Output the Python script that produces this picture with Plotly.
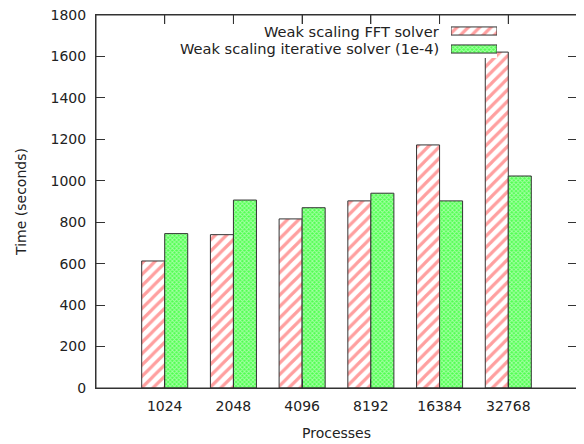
import plotly.graph_objects as go

categories = ["1024", "2048", "4096", "8192", "16384", "32768"]
fft_times = [613, 740, 816, 903, 1173, 1621]
iter_times = [745, 907, 870, 940, 903, 1023]
series_names = ["Weak scaling FFT solver", "Weak scaling iterative solver (1e-4)"]
y_ticks = [0, 200, 400, 600, 800, 1000, 1200, 1400, 1600, 1800]

FONT = "DejaVu Sans"
TXT = "#222222"
AX = "#333333"
GREEN = "#50ff50"
RED_PAT = dict(shape="/", fgcolor="#ff4040", bgcolor="white", size=8, solidity=0.4, fillmode="overlay")
GREEN_PAT = dict(shape="x", fgcolor="#ffffff", bgcolor=GREEN, size=3, solidity=0.5, fillmode="overlay")
LINE = dict(color=AX, width=1)

xpos = list(range(len(categories)))

fig = go.Figure()
fig.add_trace(go.Bar(x=xpos, y=fft_times, name=series_names[0],
                     marker=dict(color="white", pattern=RED_PAT, line=LINE), showlegend=False))
fig.add_trace(go.Bar(x=xpos, y=iter_times, name=series_names[1],
                     marker=dict(color=GREEN, pattern=GREEN_PAT, line=LINE), showlegend=False))

# legend samples drawn on a small auxiliary axis pair
fig.add_trace(go.Bar(x=[1], y=[1], orientation="h", xaxis="x2", yaxis="y2",
                     marker=dict(color="white", pattern=RED_PAT, line=LINE), showlegend=False, width=0.45))
fig.add_trace(go.Bar(x=[1], y=[0], orientation="h", xaxis="x2", yaxis="y2",
                     marker=dict(color=GREEN, pattern=GREEN_PAT, line=LINE), showlegend=False, width=0.45))

# page has an 8px body margin: compensate so the plot box lands at the target pixels
OFF = 8
W, H = 584, 444
PL, PR, PT, PB = 96, 577, 15, 388  # target plot box in window pixels
L = PL - OFF
T = PT - OFF
R = W + OFF - PR
B = H + OFF - PB
pw = PR - PL
ph = PB - PT
TICKLEN = 9

def fx(px):
    return (px - PL) / pw

def fy(py):
    return (PB - py) / ph

fig.update_layout(
    width=W, height=H,
    margin=dict(l=L, r=R, t=T, b=B, autoexpand=False),
    plot_bgcolor="white", paper_bgcolor="white",
    font=dict(family=FONT, size=14, color=TXT),
    barmode="group", bargap=0.33, bargroupgap=0,
    xaxis=dict(range=[-1, 6], tickvals=xpos, ticktext=categories, automargin=False,
               ticks="inside", ticklen=TICKLEN, tickcolor=AX, showline=True, linecolor=AX,
               linewidth=1, mirror="ticks", showgrid=False, zeroline=False,
               tickfont=dict(size=14), ticklabelstandoff=5, ticklabeloverflow="allow",
               title=dict(text="Processes", standoff=15, font=dict(size=14, family=FONT, color=TXT))),
    yaxis=dict(range=[0, 1800], tickvals=y_ticks, ticks="inside", ticklen=TICKLEN, tickcolor=AX,
               automargin=False, tickfont=dict(size=14), ticklabelstandoff=6, ticklabeloverflow="allow",
               showline=True, linecolor=AX, linewidth=1, mirror="ticks", showgrid=False,
               zeroline=False,
               title=dict(text="Time (seconds)", standoff=20, font=dict(size=14, family=FONT, color=TXT))),
    xaxis2=dict(domain=[fx(451), fx(497)], range=[0, 1], visible=False, anchor="y2"),
    yaxis2=dict(domain=[fy(58), fy(22)], range=[-0.5, 1.5], visible=False, anchor="x2"),
)

# frame around the plot area
fig.add_shape(type="rect", xref="x domain", yref="y domain", x0=0, x1=1, y0=0, y1=1,
              line=dict(color=AX, width=1), fillcolor="rgba(0,0,0,0)", layer="above")

# mirrored x ticks along the top edge, placed at the category positions
for xv in xpos:
    fig.add_shape(type="line", xref="x", yref="y domain", x0=xv, x1=xv,
                  y0=1, y1=1 - TICKLEN / ph, line=dict(color=AX, width=1), layer="above")

for i, nm in enumerate(series_names):
    fig.add_annotation(text=nm, xref="paper", yref="paper", x=fx(441), y=fy(31 + 18 * i),
                       xanchor="right", yanchor="middle", showarrow=False,
                       font=dict(family=FONT, size=14.6, color=TXT))

fig.write_html("out.html")
